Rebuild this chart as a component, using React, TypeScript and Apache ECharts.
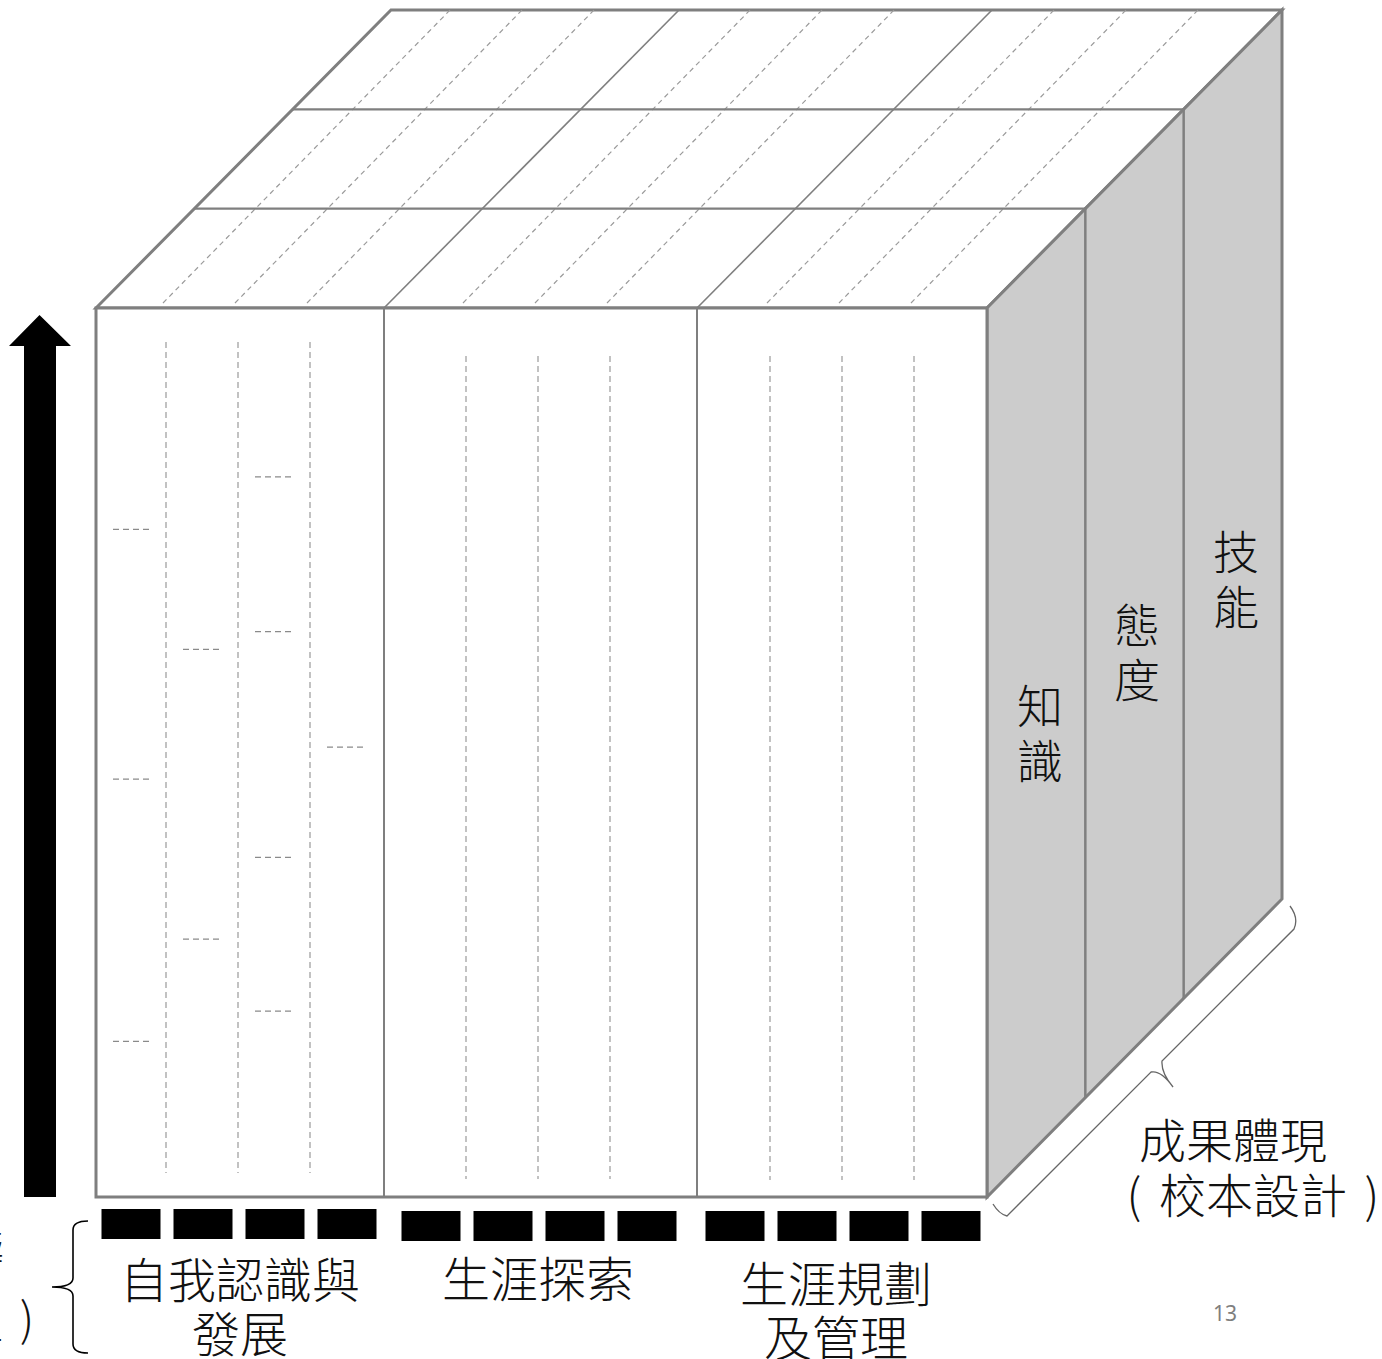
import React, { useEffect, useRef } from 'react';
import * as echarts from 'echarts';

// ---- content (data) ----
const contentAreas = [['自我認識與', '發展'], ['生涯探索'], ['生涯規劃', '及管理']];
const outcomeAreas = [['知', '識'], ['態', '度'], ['技', '能']];
const sideTitle = '成果體現';
const sideSub = '校本設計';
const leftTitle = '學習範疇';
const leftSub = '生涯課程';
const pageNumber = '13';
// short dashed marks in the first column: quarter index and height (% of front face, from bottom)
const markQuarter = [0, 0, 0, 1, 1, 2, 2, 2, 2, 3];
const markHeight = [75.1, 47.0, 17.5, 61.6, 29.0, 81.0, 63.6, 38.2, 20.9, 50.6];

// ---- geometry ----
const L = 96, T = 308, R = 987, B = 1197;
const DX = 295, DY = -298; // full depth offset
const colEdges = [96, 384, 697, 987];
const subLines = [[166, 238, 310], [466, 538, 610], [770, 842, 914]];
const subTop = [342, 356, 356];
const subBottom = [1173, 1179, 1180];
const STROKE = '#7f7f7f';
const DASH = '#9a9a9a';
const FONT = '"Noto Sans CJK TC", "Noto Sans CJK SC", sans-serif';

const P = (x: number, y: number, d: number) => [x + (DX * d) / 3, y + (DY * d) / 3];
const hToY = (h: number) => B - (h / 100) * (B - T);

function line(a: number[], b: number[], style: any, z = 5) {
  return { type: 'line', z, shape: { x1: a[0], y1: a[1], x2: b[0], y2: b[1] }, style: { fill: null, ...style } };
}

function buildGraphics() {
  const els: any[] = [];
  // faces
  els.push({ type: 'polygon', z: 1, shape: { points: [P(L, T, 0), P(L, T, 3), P(R, T, 3), P(R, T, 0)] }, style: { fill: '#ffffff', stroke: STROKE, lineWidth: 3, lineJoin: 'miter' } });
  els.push({ type: 'polygon', z: 1, shape: { points: [P(R, T, 0), P(R, T, 3), P(R, B, 3), P(R, B, 0)] }, style: { fill: '#cccccc', stroke: STROKE, lineWidth: 3, lineJoin: 'miter' } });
  els.push({ type: 'rect', z: 2, shape: { x: L, y: T, width: R - L, height: B - T }, style: { fill: '#ffffff', stroke: STROKE, lineWidth: 3 } });

  // top face dashed diagonals
  subLines.forEach((xs) => xs.forEach((x) => {
    els.push(line(P(x - 3, T - 5, 0), P(x - 6, T - 5, 2.95), { stroke: DASH, lineWidth: 1.2, lineDash: [5, 4] }, 3));
  }));
  // top face column lines
  [colEdges[1], colEdges[2]].forEach((x) => {
    els.push(line(P(x, T, 0), P(x, T, 3), { stroke: STROKE, lineWidth: 1.6 }, 4));
  });
  // depth layer lines (top + right face)
  [1, 2].forEach((d) => {
    els.push(line(P(L, T, d), P(R, T, d), { stroke: STROKE, lineWidth: 2.2 }, 4));
    els.push(line(P(R, T, d), P(R, B, d), { stroke: STROKE, lineWidth: 2.5 }, 4));
  });
  // front column dividers
  [colEdges[1], colEdges[2]].forEach((x) => {
    els.push(line([x, T], [x, B], { stroke: STROKE, lineWidth: 2 }, 4));
  });
  // front vertical dashed lines
  subLines.forEach((xs, c) => xs.forEach((x) => {
    els.push(line([x, subTop[c]], [x, subBottom[c]], { stroke: DASH, lineWidth: 1.2, lineDash: [6, 4] }, 3));
  }));
  // short marks in first column
  const q = [colEdges[0], ...subLines[0], colEdges[1]];
  markQuarter.forEach((qi, i) => {
    const y = hToY(markHeight[i]);
    const x0 = q[qi] + 17;
    els.push(line([x0, y], [x0 + 38, y], { stroke: '#8a8a8a', lineWidth: 1.2, lineDash: [6, 4] }, 3));
  });
  // black bars under each sub column (evenly spaced around the dashed lines)
  subLines.forEach((xs, c) => {
    const step = 72;
    for (let k = 0; k < 4; k++) {
      const cx = xs[0] - step / 2 + step * k + (c === 0 ? 1 : 1);
      const y0 = c === 0 ? 1209 : 1211;
      els.push({ type: 'rect', z: 5, shape: { x: cx - 29.5, y: y0, width: 59, height: 30 }, style: { fill: '#000000' } });
    }
  });
  // upward arrow
  els.push({ type: 'polygon', z: 5, shape: { points: [[39.5, 315], [71, 346], [56, 346], [56, 1197], [24, 1197], [24, 346], [9, 346]] }, style: { fill: '#000000' } });

  // braces
  els.push({ type: 'braceLeft', z: 5, x: 0, y: 0, style: { fill: null, stroke: '#000000', lineWidth: 1.6 } });
  els.push({ type: 'braceRight', z: 5, x: 0, y: 0, style: { fill: null, stroke: '#666666', lineWidth: 1.3 } });

  // labels
  const tx = (text: string, x: number, y: number, size: number, extra: any = {}) => ({
    type: 'text', z: 10, x, y,
    style: { text, fill: '#111111', font: `300 ${size}px ${FONT}`, textAlign: 'center', textVerticalAlign: 'middle', ...extra },
  });
  const contentPos = [[240, 1277], [538, 1276], [836, 1281]];
  contentAreas.forEach((lines, i) => lines.forEach((t, j) =>
    els.push(tx(t, contentPos[i][0], contentPos[i][1] + j * 54, 48))));
  const outcomePos = [[1040, 703], [1137, 622], [1236, 549]];
  outcomeAreas.forEach((lines, i) => lines.forEach((t, j) =>
    els.push(tx(t, outcomePos[i][0], outcomePos[i][1] + j * 55, 46))));
  els.push(tx(sideTitle, 1233, 1137, 47));
  els.push(tx(sideSub, 1253, 1192, 47));
  els.push(tx('(', 1134, 1192, 47));
  els.push(tx(')', 1372, 1192, 47));
  els.push(tx(leftTitle, 4, 1248, 46, { textAlign: 'right' }));
  els.push(tx(leftSub, 3, 1318, 46, { textAlign: 'right' }));
  els.push(tx(')', 27, 1316, 46));
  els.push(tx(pageNumber, 1225, 1313, 21, { fill: '#7f7f7f', font: `21px "Noto Sans", "Open Sans", sans-serif` }));
  return els;
}

let registered = false;
function registerShapes() {
  if (registered) return;
  registered = true;
  echarts.graphic.registerShape('braceLeft', echarts.graphic.extendPath(
    'M 88 1221 Q 73 1221 73 1230 L 73 1278 Q 73 1287 52 1287 Q 73 1287 73 1296 L 73 1344 Q 73 1353 88 1353', {}));
  echarts.graphic.registerShape('braceRight', echarts.graphic.extendPath(
    'M 993 1204 Q 999 1214 1007 1216 L 1151 1072 Q 1161 1070 1173 1087 Q 1161 1073 1162 1061 L 1294 929 Q 1299 918 1290 906', {}));
}

export default function App() {
  const ref = useRef<HTMLDivElement>(null);
  useEffect(() => {
    if (!ref.current) return;
    registerShapes();
    const chart = echarts.init(ref.current, undefined, { renderer: 'svg' });
    chart.setOption({
      animation: false,
      backgroundColor: '#ffffff',
      graphic: { elements: buildGraphics() },
    });
    return () => chart.dispose();
  }, []);
  return <div ref={ref} style={{ position: 'absolute', left: 0, top: 0, width: 1382, height: 1359 }} />;
}
